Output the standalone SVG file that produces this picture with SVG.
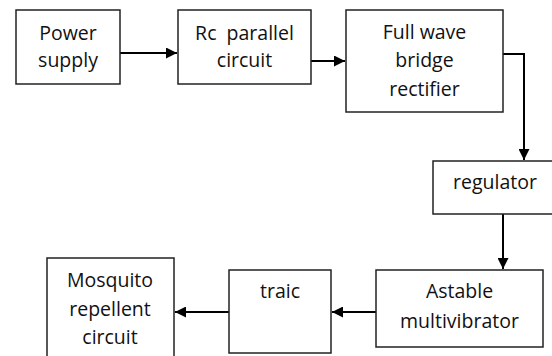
<svg xmlns="http://www.w3.org/2000/svg" width="552" height="356" viewBox="0 0 552 356">
<style>
.box{fill:#fff;stroke:#222;stroke-width:1.5}
.t{font-family:"Open Sans","Liberation Sans",sans-serif;font-size:19.5px;fill:#111;text-anchor:middle}
.c{fill:none;stroke:#000;stroke-width:2}
</style>
<defs>
<marker id="ah" viewBox="0 0 10 10" refX="10" refY="5" markerWidth="5.5" markerHeight="5.5" orient="auto" markerUnits="strokeWidth">
<path d="M0,0 L10,5 L0,10 z" fill="#000"/>
</marker>
</defs>
<rect width="552" height="356" fill="#fff"/>
<g id="connectors">
<path class="c" d="M120,53 H177" marker-end="url(#ah)"/>
<path class="c" d="M311,61 H345" marker-end="url(#ah)"/>
<path class="c" d="M503,54 H524 V160" marker-end="url(#ah)"/>
<path class="c" d="M503,214 V269" marker-end="url(#ah)"/>
<path class="c" d="M376,312 H332" marker-end="url(#ah)"/>
<path class="c" d="M229,312 H175" marker-end="url(#ah)"/>
</g>
<g id="power">
<rect class="box" x="16" y="10" width="104" height="74"/>
<text class="t" x="68" y="40">Power</text>
<text class="t" x="68" y="67">supply</text>
</g>
<g id="rc">
<rect class="box" x="178" y="10" width="133" height="74"/>
<text class="t" x="244.5" y="40" xml:space="preserve">Rc  parallel</text>
<text class="t" x="244.5" y="67">circuit</text>
</g>
<g id="rectifier">
<rect class="box" x="346" y="10" width="157" height="102"/>
<text class="t" x="424.5" y="39">Full wave</text>
<text class="t" x="424.5" y="67">bridge</text>
<text class="t" x="424.5" y="96">rectifier</text>
</g>
<g id="regulator">
<rect class="box" x="433" y="161" width="130" height="53"/>
<text class="t" x="495" y="189">regulator</text>
</g>
<g id="astable">
<rect class="box" x="376" y="270" width="167" height="77"/>
<text class="t" x="459.5" y="298">Astable</text>
<text class="t" x="459.5" y="328">multivibrator</text>
</g>
<g id="traic">
<rect class="box" x="229" y="270" width="102" height="83"/>
<text class="t" x="280" y="298">traic</text>
</g>
<g id="mosquito">
<rect class="box" x="47" y="258" width="127" height="110"/>
<text class="t" x="110" y="287">Mosquito</text>
<text class="t" x="110" y="316">repellent</text>
<text class="t" x="110" y="344">circuit</text>
</g>
</svg>
